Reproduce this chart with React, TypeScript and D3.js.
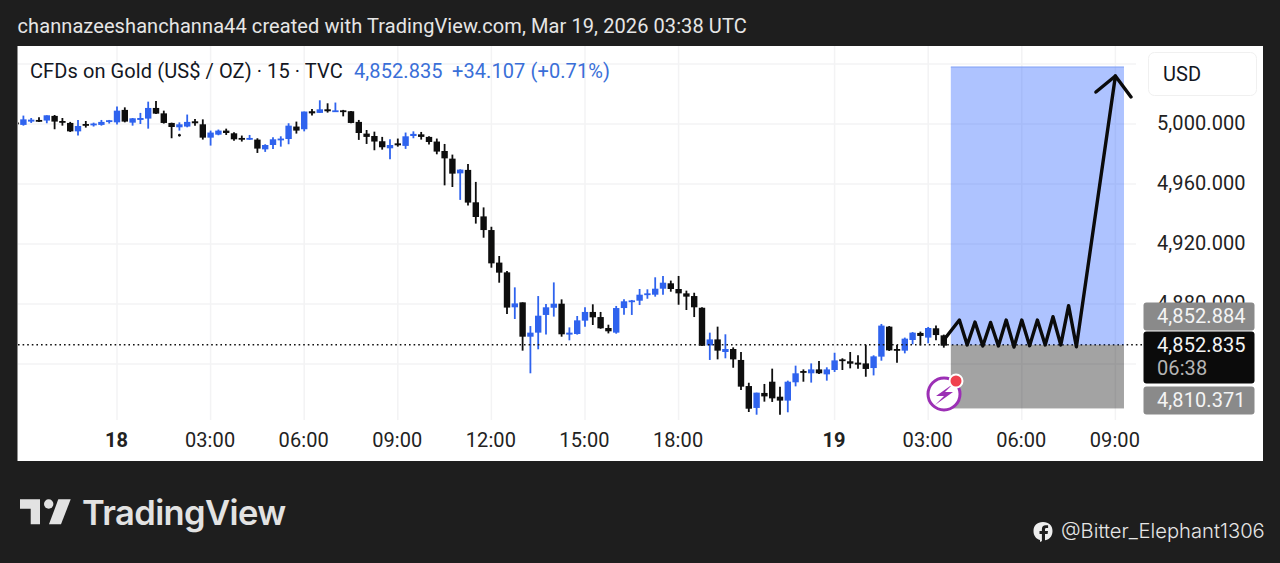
import React from "react";
import * as d3 from "d3";

// Bar offsets count 15-minute bars from the "18" session tick.
const firstBar = -13;
const highs = [5001.5,5005.6,5004.0,5004.5,5005.8,5006.0,5004.0,5001.4,5002.7,5002.0,5000.9,5002.7,5002.7,5011.6,5011.1,5004.0,5007.4,5014.9,5015.4,5008.9,5000.9,5001.1,5006.3,5003.4,5003.1,4995.6,4996.3,4996.9,4994.5,4992.3,4992.7,4990.5,4986.5,4991.1,4991.8,5000.5,5001.6,5008.3,5010.0,5015.8,5013.8,5014.3,5009.4,5008.7,5002.7,4996.0,4994.9,4991.4,4989.8,4990.3,4994.3,4995.1,4994.7,4991.8,4990.3,4986.7,4979.6,4969.8,4973.4,4961.4,4944.4,4931.5,4912.0,4902.0,4891.1,4881.1,4865.3,4885.3,4880.0,4894.4,4883.1,4864.4,4872.0,4877.8,4879.8,4874.7,4866.2,4878.7,4883.1,4882.7,4890.0,4889.8,4897.8,4898.7,4895.6,4898.7,4888.9,4887.5,4877.8,4860.9,4864.9,4859.8,4851.1,4848.0,4827.5,4820.9,4826.7,4836.9,4824.9,4828.9,4838.9,4836.4,4840.4,4842.0,4837.8,4847.5,4843.8,4848.0,4845.8,4852.9,4845.8,4866.7,4865.3,4852.6,4857.6,4861.3,4861.6,4864.7,4865.6,4859.6];
const bodyTops = [5001.0,5003.1,5002.9,5002.7,5005.8,5005.4,5002.0,5000.7,4998.7,5000.0,5000.3,5001.4,5002.5,5008.9,5009.4,5003.8,5004.0,5010.7,5010.7,5007.1,5000.7,4999.8,5001.4,5001.8,4999.8,4994.3,4995.6,4995.6,4993.8,4990.7,4990.7,4989.6,4986.0,4989.8,4990.3,4998.9,4998.3,5008.3,5008.5,5009.8,5009.8,5009.1,5009.1,5008.5,5001.4,4993.6,4992.0,4988.5,4986.0,4987.1,4991.8,4993.4,4993.1,4991.4,4988.3,4982.0,4976.9,4969.6,4969.4,4947.8,4938.4,4929.3,4907.6,4901.1,4880.4,4881.1,4860.9,4872.2,4877.8,4880.2,4880.2,4860.9,4869.1,4874.7,4874.7,4871.3,4864.0,4877.3,4881.8,4882.4,4886.2,4887.1,4890.2,4894.2,4893.8,4890.0,4887.1,4885.3,4877.5,4856.4,4856.4,4850.0,4850.0,4842.7,4825.3,4820.9,4820.7,4828.2,4818.2,4828.2,4833.8,4835.3,4836.4,4836.4,4836.4,4842.4,4843.1,4841.8,4840.9,4840.4,4845.1,4865.6,4864.9,4850.0,4856.9,4860.9,4860.7,4864.0,4863.8,4859.1];
const bodyBottoms = [5000.0,4999.4,5001.6,5002.0,5002.3,5001.6,5000.9,4995.1,4995.1,4999.1,4999.1,4999.4,5001.6,5001.1,5001.6,5000.9,5002.7,5003.6,5006.9,5000.7,4998.0,4997.8,4998.3,5000.5,4990.9,4990.9,4992.9,4994.0,4989.8,4989.8,4989.6,4983.6,4983.1,4986.0,4989.6,4990.0,4995.6,4996.5,5007.1,5007.4,5008.5,5008.5,5008.5,5000.7,4994.0,4991.4,4988.3,4984.5,4983.8,4985.8,4985.4,4992.0,4991.4,4988.0,4981.6,4977.1,4966.9,4967.1,4947.6,4938.0,4929.3,4907.1,4900.9,4877.6,4877.8,4858.2,4858.2,4860.9,4872.7,4877.5,4859.8,4859.6,4860.0,4868.9,4871.1,4863.8,4861.8,4860.9,4877.3,4881.8,4882.2,4886.0,4886.2,4890.2,4890.0,4887.1,4884.9,4877.8,4852.2,4852.4,4848.9,4848.0,4843.1,4824.9,4810.2,4810.7,4818.4,4817.1,4815.6,4815.6,4827.8,4834.2,4833.8,4833.8,4833.1,4836.0,4842.2,4840.2,4839.6,4836.7,4837.3,4844.9,4849.1,4849.1,4848.9,4856.0,4858.7,4857.6,4859.3,4852.2];
const lows = [4999.5,4998.9,5000.7,5001.4,5000.5,4996.5,4998.9,4994.7,4992.3,4997.6,4998.3,4998.9,5000.3,4999.6,5001.1,4998.9,5000.0,4996.9,5006.7,5000.3,4990.5,4995.6,4997.8,4998.9,4989.6,4985.6,4992.5,4992.7,4988.9,4988.3,4989.4,4980.7,4981.4,4983.4,4984.9,4986.5,4993.6,4995.1,5005.6,5007.4,5007.6,5008.5,5005.1,5000.5,4989.4,4986.7,4982.5,4982.9,4976.5,4984.9,4983.4,4990.5,4989.6,4986.3,4979.8,4959.1,4958.0,4949.4,4945.6,4933.6,4924.2,4904.2,4894.2,4873.3,4870.0,4848.9,4833.8,4849.8,4859.6,4871.6,4858.2,4855.8,4859.6,4864.9,4866.0,4863.5,4860.4,4860.2,4872.9,4872.7,4879.3,4883.5,4884.9,4886.2,4888.2,4879.5,4876.0,4871.3,4852.0,4842.7,4843.1,4843.8,4837.5,4822.7,4808.0,4806.2,4814.9,4814.7,4806.2,4807.8,4825.1,4828.2,4827.6,4833.3,4828.9,4834.7,4836.0,4837.1,4836.9,4831.5,4832.4,4842.2,4848.7,4840.9,4847.1,4853.1,4852.4,4853.8,4855.8,4850.9];
const risingBars = [-12,-11,-9,-5,-3,-2,-1,0,2,3,4,8,9,12,13,17,19,20,21,22,24,26,28,35,37,38,44,51,53,54,55,56,58,59,60,64,65,66,67,68,69,70,76,78,82,86,87,89,91,92,97,98,101,102,104];
const strayBar = 8;
const strayPrice = 4992.5;

const priceTicks = [5040, 5000, 4960, 4920, 4880, 4840];
const priceLabels = ["5,000.000", "4,960.000", "4,920.000"];
const priceLabelValues = [5000, 4960, 4920];
const hiddenLabel = "4,880.000";
const timeTickBars = [0, 12, 24, 36, 48, 60, 72, 92, 104, 116, 128];
const timeTickLabels = ["18", "03:00", "06:00", "09:00", "12:00", "15:00", "18:00", "19", "03:00", "06:00", "09:00"];
const boldTimeLabels = ["18", "19"];

const lastPrice = 4852.835;
const targetTagPrice = "4,852.884";
const stopPrice = 4810.371;
const positionTop = 5038;
const positionBars = [106.9, 129.1];

const sketchBars = [106, 108, 109, 110, 111, 112, 113, 114, 115, 116, 117, 118, 119, 120, 121, 122, 123, 128, 130];
const sketchPrices = [4856, 4869.3, 4852.7, 4868, 4852, 4867.7, 4852, 4869.3, 4851.3, 4869.3, 4852.2, 4869.3, 4852.7, 4871.5, 4852.7, 4878.9, 4851.5, 5032, 5018];
const arrowBars = [125.5, 128];
const arrowPrices = [5021.3, 5032];

const FONT = "Roboto, sans-serif";
const BG = "#1e1e1e";
const BLUE = "#2f63ee";
const INK = "#0e0e0e";
const LS = 0.09;

export default function App() {
  const x = d3.scaleLinear().domain([0, 100]).range([117, 897]);
  const y = d3.scaleLinear().domain([5000, 4880]).range([124, 304]);
  const line = d3.line<[number, number]>().x(d => x(d[0])).y(d => y(d[1]));
  const sketch = line(sketchBars.map((b, i) => [b, sketchPrices[i]] as [number, number]))!;
  const arrow = line(arrowBars.map((b, i) => [b, arrowPrices[i]] as [number, number]))!;
  const bodyW = 6.4;

  return (
    <svg width={1280} height={563} viewBox="0 0 1280 563"
      style={{ position: "fixed", left: 0, top: 0, display: "block" }} fontFamily={FONT} letterSpacing={LS}>
      <defs>
        <clipPath id="plot"><rect x={18} y={46} width={1245} height={415} /></clipPath>
      </defs>
      <rect width={1280} height={563} fill={BG} />
      <text x={17.5} y={33} fontSize={20} fill="#e6e6e6">
        channazeeshanchanna44 created with TradingView.com, Mar 19, 2026 03:38 UTC
      </text>

      <rect x={17.5} y={46} width={1245.5} height={415} fill="#fff" />

      <g stroke="#f3f3f4" strokeWidth={1.5}>
        {priceTicks.map(p => <line key={p} x1={18} x2={1136} y1={y(p)} y2={y(p)} />)}
        {timeTickBars.map(b => <line key={b} x1={x(b)} x2={x(b)} y1={46} y2={420} />)}
      </g>

      <text x={30} y={78} fontSize={20} fill="#131722">CFDs on Gold (US$ / OZ) · 15 · TVC</text>
      <text x={354} y={78} fontSize={20} fill="#3a6fd8">4,852.835</text>
      <text x={452} y={78} fontSize={20} fill="#3a6fd8">+34.107 (+0.71%)</text>

      <g clipPath="url(#plot)">
        {highs.map((h, i) => {
          const bar = firstBar + i;
          const c = risingBars.includes(bar) ? BLUE : INK;
          const cx = x(bar);
          const t = y(bodyTops[i]);
          const b = y(bodyBottoms[i]);
          return (
            <g key={bar}>
              <line x1={cx} x2={cx} y1={y(h)} y2={y(lows[i])} stroke={c} strokeWidth={1.8} />
              <rect x={cx - bodyW / 2} y={t} width={bodyW} height={Math.max(b - t, 1.8)} fill={c} />
            </g>
          );
        })}
        <circle cx={x(strayBar)} cy={y(strayPrice)} r={1.4} fill={INK} />
      </g>

      <line x1={18} x2={1144} y1={y(lastPrice)} y2={y(lastPrice)} stroke="#111" strokeWidth={1.5} strokeDasharray="1.6 3" />

      <rect x={x(positionBars[0])} width={x(positionBars[1]) - x(positionBars[0])}
        y={y(positionTop)} height={y(lastPrice) - y(positionTop)} fill="#2962ff" fillOpacity={0.38} />
      <line x1={x(positionBars[0])} x2={x(positionBars[1])} y1={y(positionTop)} y2={y(positionTop)} stroke="#7f9ff5" strokeWidth={1} />
      <rect x={x(positionBars[0])} width={x(positionBars[1]) - x(positionBars[0])}
        y={y(lastPrice)} height={y(stopPrice) - y(lastPrice)} fill="#000" fillOpacity={0.36} />

      <path d={sketch} fill="none" stroke="#0b0b0b" strokeWidth={3.4} strokeLinejoin="round" strokeLinecap="round" />
      <path d={arrow} fill="none" stroke="#0b0b0b" strokeWidth={3.4} strokeLinecap="round" />

      {/* alert badge */}
      <circle cx={944} cy={394} r={16} fill="#fff" stroke="#9c2fb5" strokeWidth={3} />
      <path d="M953 384 L936 396 L944 396 L935 405 L953 392 L945 392 Z" fill="#9c2fb5" />
      <circle cx={956} cy={381} r={6.5} fill="#f0414f" stroke="#fff" strokeWidth={2} />

      {/* price axis */}
      <rect x={1148.5} y={52.5} width={108} height={43} rx={6} fill="#fff" stroke="#f0f0f0" />
      <text x={1163} y={81} fontSize={20} fill="#131722">USD</text>
      {priceLabelValues.map((p, i) => (
        <text key={p} x={1157} y={y(p) + 6} fontSize={20} fill="#222">{priceLabels[i]}</text>
      ))}
      <text x={1157} y={y(4880) + 6} fontSize={20} fill="#222">{hiddenLabel}</text>

      <rect x={1143.5} y={302.5} width={111} height={28} rx={3} fill="#8a8a8a" />
      <text x={1157} y={323} fontSize={20} fill="#f4f4f4">{targetTagPrice}</text>
      <rect x={1143.5} y={331.5} width={111} height={52} rx={3} fill="#0b0b0b" />
      <text x={1157} y={352} fontSize={20} fill="#f4f4f4">{d3.format(",.3f")(lastPrice)}</text>
      <text x={1157} y={375} fontSize={20} fill="#b5b5b5">06:38</text>
      <rect x={1143.5} y={386.5} width={111} height={28} rx={3} fill="#8a8a8a" />
      <text x={1157} y={407} fontSize={20} fill="#f4f4f4">{d3.format(",.3f")(stopPrice)}</text>

      {/* time axis */}
      {timeTickBars.map((b, i) => (
        <text key={b} x={x(b) - 0.5} y={447} fontSize={20} textAnchor="middle" fill="#222"
          fontWeight={boldTimeLabels.includes(timeTickLabels[i]) ? 700 : 400}>{timeTickLabels[i]}</text>
      ))}

      {/* brand */}
      <g fill="#e2e2e2">
        <path d="M20 499.3 H40 V524.3 H30.7 V508.7 H20 Z" />
        <circle cx={48.7} cy={504} r={4.7} />
        <path d="M58.3 499.3 H70.7 L61 524.3 H49 Z" />
      </g>
      <text x={82} y={525} fontSize={34.5} fontWeight={600} fontFamily="Inter, sans-serif" fill="#e2e2e2" letterSpacing={-0.6}>TradingView</text>

      <path d="M1043 522 c-6 0 -9.5 3.5 -9.5 9 c0 4.5 2.5 8 6.5 9 v2 l3 -1.5 c6 0 9.5 -4 9.5 -9.5 c0 -5.5 -3.5 -9 -9.5 -9 Z" fill="#eee" />
      <path d="M1045 541 v-7 h2.6 l.4 -3 h-3 v-1.6 c0 -1 .4 -1.5 1.5 -1.5 h1.6 v-2.6 h-2.4 c-2.5 0 -3.8 1.5 -3.8 3.9 v1.8 h-2.4 v3 h2.4 v7 Z" fill={BG} />
      <text x={1061} y={538} fontSize={20.2} fontWeight={300} fontFamily="Inter, sans-serif" fill="#e6e6e6" letterSpacing={0}>@Bitter_Elephant1306</text>
    </svg>
  );
}
